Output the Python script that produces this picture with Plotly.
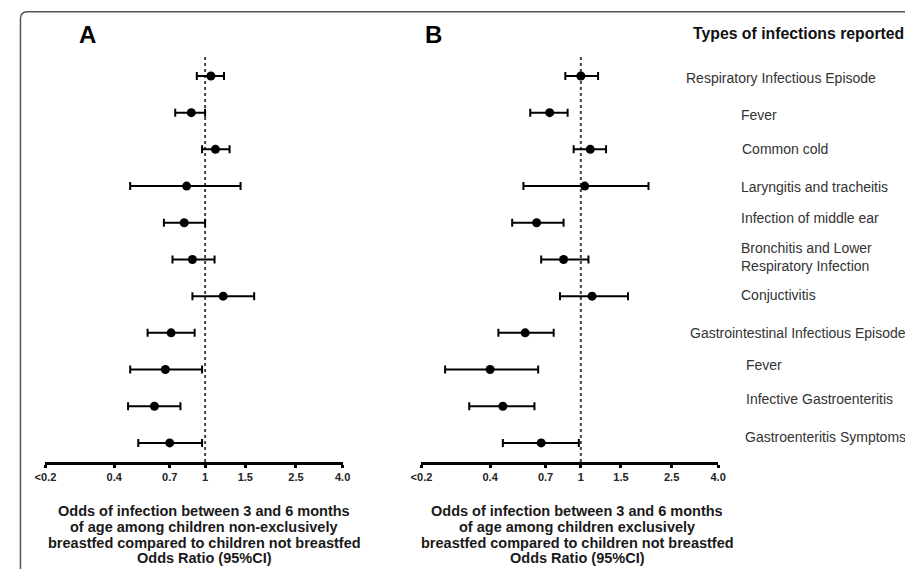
import plotly.graph_objects as go
import math

W, H = 913, 569
OX, OY = 8, 8  # page body margin offset of the figure div

# ---------------- data ----------------
infection_types = [
    "Respiratory Infectious Episode",
    "Fever",
    "Common cold",
    "Laryngitis and tracheitis",
    "Infection of middle ear",
    "Bronchitis and Lower<br>Respiratory Infection",
    "Conjuctivitis",
    "Gastrointestinal Infectious Episode",
    "Fever",
    "Infective Gastroenteritis",
    "Gastroenteritis Symptoms",
]

# Panel A: non-exclusively breastfed vs not breastfed
or_a = [1.06, 0.87, 1.11, 0.83, 0.81, 0.88, 1.20, 0.71, 0.67, 0.60, 0.70]
lo_a = [0.92, 0.74, 0.97, 0.47, 0.66, 0.72, 0.88, 0.56, 0.47, 0.46, 0.51]
hi_a = [1.21, 1.00, 1.28, 1.43, 1.00, 1.10, 1.64, 0.90, 0.97, 0.78, 0.97]

# Panel B: exclusively breastfed vs not breastfed
or_b = [1.00, 0.73, 1.10, 1.04, 0.64, 0.84, 1.12, 0.57, 0.40, 0.455, 0.67]
lo_b = [0.855, 0.60, 0.93, 0.56, 0.50, 0.67, 0.81, 0.435, 0.254, 0.324, 0.455]
hi_b = [1.19, 0.875, 1.29, 1.98, 0.84, 1.08, 1.61, 0.76, 0.65, 0.626, 0.98]

tick_vals = [0.2, 0.4, 0.7, 1, 1.5, 2.5, 4.0]
tick_text = ["<0.2", "0.4", "0.7", "1", "1.5", "2.5", "4.0"]

title_a = ["Odds of infection between 3 and 6 months",
           "of age among children non-exclusively",
           "breastfed compared to children not breastfed",
           "Odds Ratio (95%CI)"]
title_b = ["Odds of infection between 3 and 6 months",
           "of age among children exclusively",
           "breastfed compared to children not breastfed",
           "Odds Ratio (95%CI)"]

# ---------------- layout helpers (screen pixels -> paper) ----------------
def px(x):
    return (x - OX) / W

def py(y):
    return 1 - (y - OY) / H

rows = list(range(len(infection_types)))

fig = go.Figure()

def add_panel(ors, los, his, xa, ya):
    fig.add_trace(go.Scatter(
        x=ors, y=rows, mode="markers",
        xaxis=xa, yaxis=ya,
        marker=dict(color="black", size=9),
        error_x=dict(type="data", symmetric=False,
                     array=[h - o for h, o in zip(his, ors)],
                     arrayminus=[o - l for o, l in zip(ors, los)],
                     color="black", thickness=2, width=4),
        showlegend=False, hoverinfo="skip",
    ))

add_panel(or_a, lo_a, hi_a, "x", "y")
add_panel(or_b, lo_b, hi_b, "x2", "y2")

xr = [math.log10(0.2), math.log10(4.0)]
ydom = [py(462), py(55)]
yr = [10.52, -0.572]

xcommon = dict(type="log", range=xr, tickvals=tick_vals, ticktext=tick_text,
               showgrid=False, zeroline=False, showline=True, linecolor="black",
               linewidth=3, ticks="outside", ticklen=3, tickwidth=3, tickcolor="black",
               tickfont=dict(family="Liberation Sans", size=11, color="#222", weight="bold"),
               fixedrange=True)
ycommon = dict(range=yr, domain=ydom, visible=False, showgrid=False, zeroline=False,
               fixedrange=True)

fig.update_layout(
    width=W, height=H,
    margin=dict(l=0, r=0, t=0, b=0),
    paper_bgcolor="white", plot_bgcolor="white",
    xaxis=dict(domain=[px(35), px(338.5)], anchor="y", **xcommon),
    yaxis=dict(anchor="x", **ycommon),
    xaxis2=dict(domain=[px(419), px(722)], anchor="y2", **xcommon),
    yaxis2=dict(anchor="x2", **ycommon),
    font=dict(family="Liberation Sans", color="#333"),
)

# dotted reference lines at OR = 1
for xr_, yr_ in [("x", "y domain"), ("x2", "y2 domain")]:
    fig.add_shape(type="line", xref=xr_, yref=yr_, x0=1, x1=1, y0=0, y1=1,
                  line=dict(color="#444", width=2, dash="dot"), layer="below")

# rounded frame (top-left corner visible)
x0f, ytf = px(9.5), py(11.7)
rx, ry = 7 / W, 7 / H
fig.add_shape(type="path", xref="paper", yref="paper",
              path=f"M {x0f},-0.05 L {x0f},{ytf - ry} Q {x0f},{ytf} {x0f + rx},{ytf} L 1.05,{ytf}",
              line=dict(color="#555", width=1.5))

# panel letters and header
for letter, cx in [("A", 77.5), ("B", 431)]:
    fig.add_annotation(text=letter, x=px(cx), y=py(34), xref="paper", yref="paper",
                       xanchor="center", yanchor="middle", showarrow=False,
                       font=dict(size=24, color="black", weight="bold"))
fig.add_annotation(text="Types of infections reported", x=px(694), y=py(33),
                   xref="paper", yref="paper", xanchor="left", yanchor="middle",
                   showarrow=False, font=dict(size=15.8, color="#111", weight="bold"))

# row labels
label_x = [687, 743, 744, 743, 743, 743, 743, 691, 748, 748, 747]
label_shift = [-2, -2, 0, -1, 5, 2, 1, 0, 5, 7, 6]
for i, (txt, lx, sh) in enumerate(zip(infection_types, label_x, label_shift)):
    fig.add_annotation(text=txt, x=px(lx), xref="paper", y=i, yref="y2",
                       xanchor="left", yanchor="middle", align="left", yshift=sh,
                       showarrow=False, font=dict(size=14, color="#333"))

# bottom axis titles (one annotation per line for tight line spacing)
for lines, cx in [(title_a, 197), (title_b, 578)]:
    for k, line in enumerate(lines):
        fig.add_annotation(text=line, x=px(cx), y=py(511 + 15.8 * k),
                           xref="paper", yref="paper", xanchor="center", yanchor="middle",
                           showarrow=False,
                           font=dict(size=14.5, color="#1a1a1a", weight="bold"))

fig.write_html("out.html")
